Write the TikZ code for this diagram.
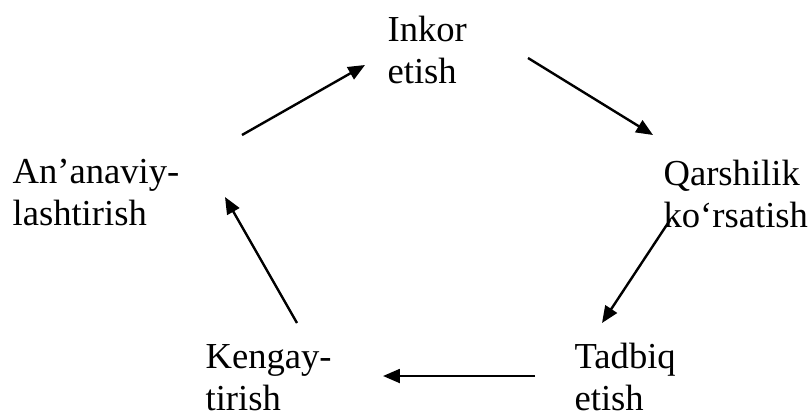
\documentclass[tikz,border=0pt]{standalone}
\usepackage{fontspec}
\setmainfont{Liberation Serif}
\usepackage{tikz}
\usetikzlibrary{arrows.meta,positioning,calc}

\begin{document}
\begin{tikzpicture}[x=0.3333pt, y=-0.3333pt,
    stage/.style={anchor=base west, inner sep=0pt, align=left,
      font=\fontsize{12.2pt}{13.67pt}\selectfont},
    flow/.style={-{Triangle[length=5.6pt,width=4.6pt]}, line width=0.8pt}]
      \useasboundingbox (0,0) rectangle (811,414);

      % the five stages, placed at the baseline of their last line
      \node (inkor) [stage] at (387,83) {Inkor\\etish};
      \node (qarshi) [stage] at (663,227) {Qarshilik\\ko‘rsatish};
      \node (tadbiq) [stage] at (574,410) {Tadbiq\\etish};
      \node (kengay) [stage] at (205,410) {Kengay-\\tirish};
      \node (ananav) [stage] at (12,225) {An’anaviy-\\lashtirish};

      % the cycle
      \draw[flow] ([shift={(230,-90)}]ananav.base west) -- ([shift={(-22,-18)}]inkor.base west);
      \draw[flow] ([shift={(141,-25)}]inkor.base west) -- ([shift={(-10,-92)}]qarshi.base west);
      \draw[flow] ([shift={(7,-7)}]qarshi.base west) -- ([shift={(28,-87)}]tadbiq.base west);
      \draw[flow] ([shift={(-39,-34)}]tadbiq.base west) -- ([shift={(178,-34)}]kengay.base west);
      \draw[flow] ([shift={(92,-87)}]kengay.base west) -- ([shift={(213,-28)}]ananav.base west);
  \end{tikzpicture}
\end{document}
